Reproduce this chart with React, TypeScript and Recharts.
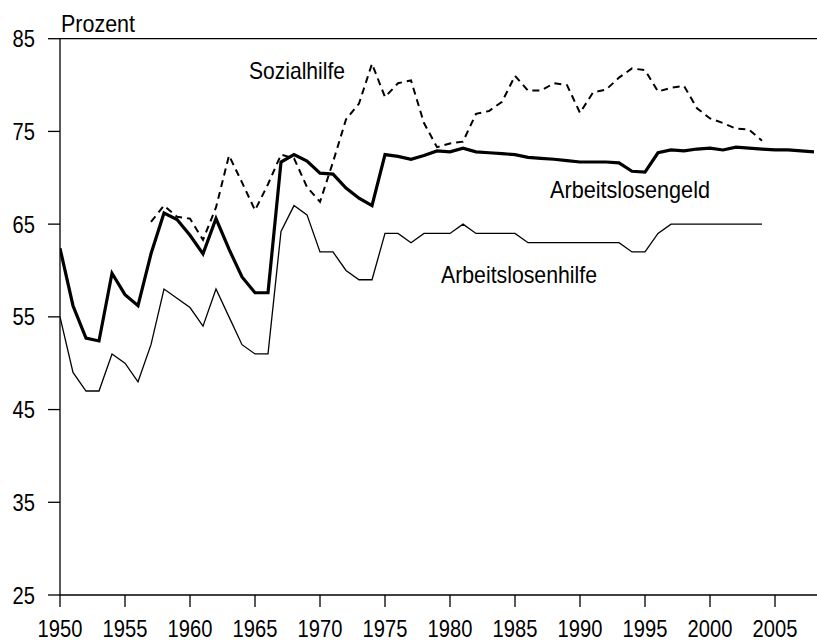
import React from "react";
import { LineChart, Line, XAxis, YAxis, ReferenceLine } from "recharts";

const years: number[] = [];
for (let y = 1950; y <= 2008; y++) years.push(y);

// Arbeitslosengeld 1950–2008
const arbeitslosengeld: number[] = [
  62.4, 56.2, 52.7, 52.4, 59.7, 57.4, 56.2, 61.8, 66.2, 65.5,
  63.8, 61.8, 65.6, 62.3, 59.3, 57.6, 57.6, 71.7, 72.5, 71.8,
  70.5, 70.4, 68.9, 67.8, 67.0, 72.5, 72.3, 72.0, 72.4, 72.9,
  72.8, 73.2, 72.8, 72.7, 72.6, 72.5, 72.2, 72.1, 72.0, 71.85,
  71.7, 71.7, 71.7, 71.6, 70.7, 70.6, 72.7, 73.0, 72.9, 73.1,
  73.2, 73.0, 73.3, 73.2, 73.1, 73.0, 73.0, 72.9, 72.8,
];

// Arbeitslosenhilfe 1950–2004
const arbeitslosenhilfe: (number | null)[] = [
  55, 49, 47, 47, 51, 50, 48, 52, 58, 57,
  56, 54, 58, 55, 52, 51, 51, 64.2, 67, 66,
  62, 62, 60, 59, 59, 64, 64, 63, 64, 64,
  64, 65, 64, 64, 64, 64, 63, 63, 63, 63,
  63, 63, 63, 63, 62, 62, 64, 65, 65, 65,
  65, 65, 65, 65, 65, null, null, null, null,
];

// Sozialhilfe 1957–2004
const sozialhilfe: (number | null)[] = [
  null, null, null, null, null, null, null, 65.25, 67.0, 65.8,
  65.6, 63.3, 66.8, 72.4, 69.5, 66.5, 69.3, 72.5, 72.1, 69.0,
  67.4, 71.7, 76.3, 78.0, 82.3, 78.7, 80.2, 80.5, 75.9, 73.3,
  73.7, 73.9, 76.9, 77.2, 78.2, 81.0, 79.4, 79.4, 80.2, 80.0,
  77.0, 79.2, 79.5, 80.8, 81.8, 81.6, 79.3, 79.7, 79.9, 77.5,
  76.4, 75.9, 75.3, 75.2, 74.0, null, null, null, null,
];

const xTicks = [1950, 1955, 1960, 1965, 1970, 1975, 1980, 1985, 1990, 1995, 2000, 2005];
const yTicks = [25, 35, 45, 55, 65, 75, 85];

const data = years.map((year, i) => ({
  year,
  geld: arbeitslosengeld[i],
  hilfe: arbeitslosenhilfe[i],
  sozial: sozialhilfe[i],
}));

const FONT = '"Liberation Sans", Arial, Helvetica, sans-serif';
const FS = 24;
const DIGIT_W = 11.2;

const XTick = (props: any) => {
  const { x, y, payload } = props;
  const s = String(payload.value);
  return (
    <text
      x={x}
      y={y + 17}
      textAnchor="middle"
      fontFamily={FONT}
      fontSize={FS}
      fill="#000"
      textLength={s.length * DIGIT_W}
      lengthAdjust="spacingAndGlyphs"
    >
      {s}
    </text>
  );
};

const YTick = (props: any) => {
  const { x, y, payload } = props;
  const s = String(payload.value);
  return (
    <text
      x={x}
      y={y + 8.5}
      textAnchor="end"
      fontFamily={FONT}
      fontSize={FS}
      fill="#000"
      textLength={s.length * DIGIT_W}
      lengthAdjust="spacingAndGlyphs"
    >
      {s}
    </text>
  );
};

const Label = ({ x, y, w, children }: { x: number; y: number; w: number; children: string }) => (
  <text
    x={x}
    y={y}
    fontFamily={FONT}
    fontSize={FS}
    fill="#000"
    textLength={w}
    lengthAdjust="spacingAndGlyphs"
  >
    {children}
  </text>
);

export default function App() {
  return (
    <div style={{ position: "absolute", left: 0, top: 0, width: 817, height: 644, background: "#fff" }}>
      <LineChart
        width={817}
        height={644}
        data={data}
        margin={{ top: 38.7, right: 0, bottom: 0, left: 0 }}
      >
        <XAxis
          dataKey="year"
          type="number"
          domain={[1950, 2008.23]}
          ticks={xTicks}
          allowDataOverflow
          height={49}
          tickSize={12}
          tickMargin={13}
          stroke="#000"
          strokeWidth={1.3}
          tick={<XTick />}
          tickLine={{ stroke: "#000", strokeWidth: 1.3 }}
        />
        <YAxis
          type="number"
          domain={[25, 85]}
          ticks={yTicks}
          width={60}
          tickSize={12}
          tickMargin={13}
          stroke="#000"
          strokeWidth={1.3}
          tick={<YTick />}
          tickLine={{ stroke: "#000", strokeWidth: 1.3 }}
        />
        <ReferenceLine y={85} stroke="#000" strokeWidth={1.3} />
        <Line
          dataKey="hilfe"
          stroke="#000"
          strokeWidth={1.3}
          dot={false}
          isAnimationActive={false}
          connectNulls={false}
        />
        <Line
          dataKey="sozial"
          stroke="#000"
          strokeWidth={2}
          strokeDasharray="7 5"
          dot={false}
          isAnimationActive={false}
          connectNulls={false}
        />
        <Line
          dataKey="geld"
          stroke="#000"
          strokeWidth={3.2}
          dot={false}
          isAnimationActive={false}
        />
      </LineChart>
      <svg
        width={817}
        height={644}
        style={{ position: "absolute", left: 0, top: 0, pointerEvents: "none" }}
      >
        <Label x={61} y={32} w={74}>Prozent</Label>
        <Label x={249} y={79} w={96}>Sozialhilfe</Label>
        <Label x={550} y={198} w={160}>Arbeitslosengeld</Label>
        <Label x={441} y={283} w={156}>Arbeitslosenhilfe</Label>
      </svg>
    </div>
  );
}
